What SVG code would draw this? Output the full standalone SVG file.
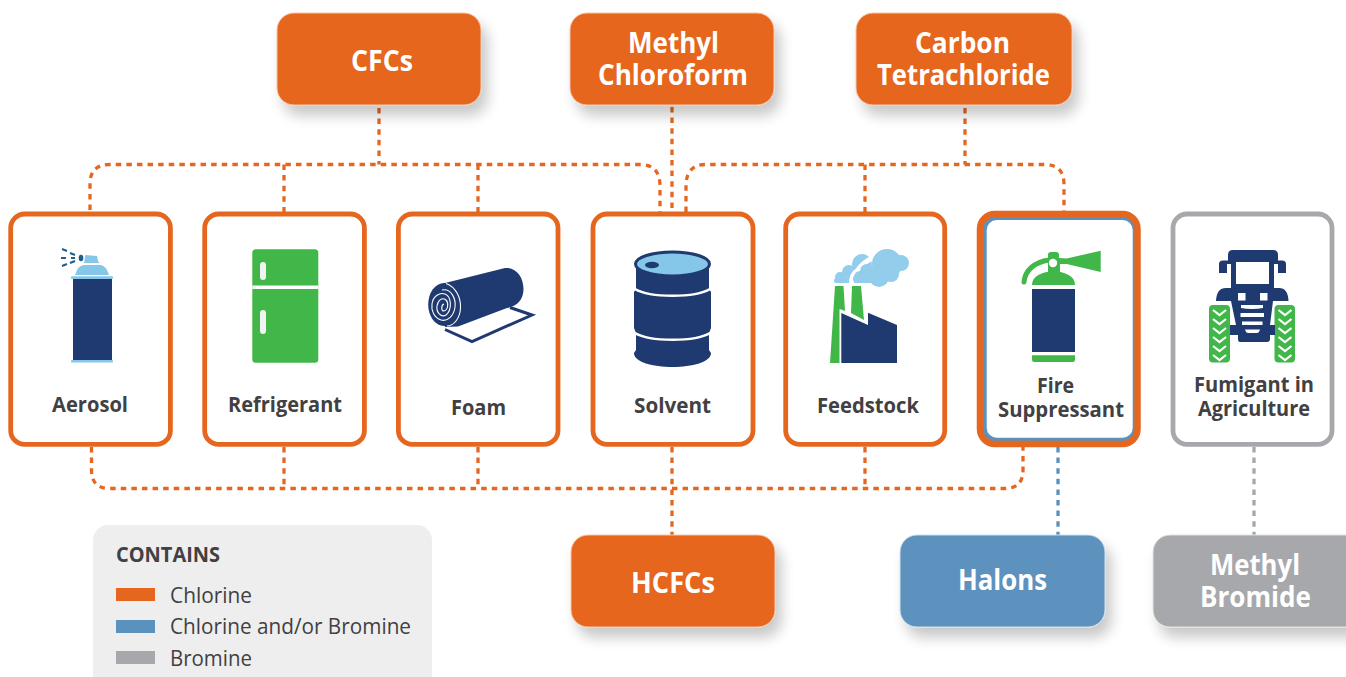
<svg xmlns="http://www.w3.org/2000/svg" width="1346" height="677" viewBox="0 0 1346 677">
<defs>
<filter id="sh" x="-15%" y="-20%" width="135%" height="160%"><feGaussianBlur in="SourceAlpha" stdDeviation="7"/><feOffset dx="6" dy="10"/><feComponentTransfer><feFuncA type="linear" slope="0.22"/></feComponentTransfer><feMerge><feMergeNode/><feMergeNode in="SourceGraphic"/></feMerge></filter>
</defs>
<style>
.card{fill:#fff;stroke:#e5661f;stroke-width:4.800}
.lab{font-family:"Open Sans","Noto Sans",sans-serif;font-weight:700;font-size:21px;fill:#414042}
.hd{font-family:"Open Sans","Noto Sans",sans-serif;font-weight:700;font-size:28px;fill:#fff}
.leg{font-family:"Open Sans","Noto Sans",sans-serif;font-size:22px;fill:#414042}
.or{fill:#e5661f;stroke:#f7c6aa;stroke-width:1}
.navy{fill:#1f3a70}.green{fill:#41b649}.sky{fill:#85c7e9}.wh{fill:#fff}
.c{fill:none;stroke-width:3.300;stroke-dasharray:5.500 5.100}
.co{stroke:#e5661f}
</style>
<rect width="1346" height="677" fill="#fff"/>

<g id="connectors">
<path class="c co" d="M379 108V164.500"/>
<path class="c co" d="M90 210V184Q90 164.500 110 164.500H640Q660 164.500 660 186V212"/>
<path class="c co" d="M284 164.500V212M478 164.500V212"/>
<path class="c co" d="M672 107V212"/>
<path class="c co" d="M686 212V186Q686 164.500 706 164.500H1044Q1064 164.500 1064 184V212"/>
<path class="c co" d="M965 108V164.500M865 164.500V212"/>
<path class="c co" d="M91.500 447V470Q91.500 488.500 110 488.500H1005Q1023 488.500 1023 470V447"/>
<path class="c co" d="M284 447V488.500M478 447V488.500M865 447V488.500"/>
<path class="c co" d="M672 447V535"/>
<path class="c" stroke="#5b92bd" d="M1058 447V535"/>
<path class="c" stroke="#a7a8ab" d="M1254 447V535"/>
</g>

<g id="cfcs"><rect class="or" x="277" y="13" width="204" height="92" rx="17" filter="url(#sh)"/><text class="hd" x="351" y="71" textLength="62" lengthAdjust="spacingAndGlyphs">CFCs</text></g>
<g id="methyl-chloroform"><rect class="or" x="570" y="13" width="204" height="92" rx="17" filter="url(#sh)"/><text class="hd" x="628" y="53" textLength="91" lengthAdjust="spacingAndGlyphs">Methyl</text><text class="hd" x="598" y="85" textLength="150" lengthAdjust="spacingAndGlyphs">Chloroform</text></g>
<g id="carbon-tetrachloride"><rect class="or" x="856" y="13" width="216" height="92" rx="17" filter="url(#sh)"/><text class="hd" x="915" y="53" textLength="95" lengthAdjust="spacingAndGlyphs">Carbon</text><text class="hd" x="877" y="85" textLength="173" lengthAdjust="spacingAndGlyphs">Tetrachloride</text></g>
<g id="hcfcs"><rect class="or" x="571" y="535" width="204" height="92" rx="17" filter="url(#sh)"/><text class="hd" x="631" y="593" textLength="84" lengthAdjust="spacingAndGlyphs">HCFCs</text></g>
<g id="halons"><rect x="900" y="535" width="205" height="92" rx="17" fill="#5b92bd" stroke="#cfe0ec" stroke-width="1" filter="url(#sh)"/><text class="hd" x="958" y="590" textLength="89" lengthAdjust="spacingAndGlyphs">Halons</text></g>
<g id="methyl-bromide"><rect x="1153" y="535" width="210" height="92" rx="17" fill="#a7a8ab" stroke="#e2e2e3" stroke-width="1" filter="url(#sh)"/><text class="hd" x="1210" y="575" textLength="90" lengthAdjust="spacingAndGlyphs">Methyl</text><text class="hd" x="1200" y="607" textLength="111" lengthAdjust="spacingAndGlyphs">Bromide</text></g>

<g id="aerosol"><rect class="card" x="10.700" y="214" width="159.700" height="230.400" rx="14"/>
<rect class="navy" x="73" y="279" width="39" height="81"/>
<rect class="sky" x="71" y="360" width="42" height="2.400" rx="1"/><rect class="sky" x="71" y="276.300" width="42" height="2.600" rx="1"/>
<path class="sky" d="M75 275L77 270Q80 265 85 265H100Q104 265 107 270L109 275Z"/>
<path class="sky" d="M84 263L85.500 255L97 256L98 261L99.500 263Z"/>
<ellipse cx="81" cy="258" rx="2.300" ry="3.300" fill="#1d5f8a"/>
<g stroke="#1d5f8a" stroke-width="2" fill="none"><path d="M70 253L75 255M71 258H75M70 263L75 261M62 249L67 251M61 258H66M62 266L67 264"/></g>
<text class="lab" x="52" y="412" textLength="76" lengthAdjust="spacingAndGlyphs">Aerosol</text></g>

<g id="refrigerant"><rect class="card" x="204.700" y="214" width="159.700" height="230.400" rx="14"/>
<rect class="green" x="252.300" y="249.300" width="66" height="113.400" rx="3.500"/><rect class="wh" x="252.300" y="285.500" width="66" height="3.500"/>
<rect x="260" y="262" width="6" height="18" rx="3" fill="#f1f2f2"/><rect x="260" y="310" width="6" height="24" rx="3" fill="#f1f2f2"/>
<text class="lab" x="228" y="412" textLength="114" lengthAdjust="spacingAndGlyphs">Refrigerant</text></g>

<g id="foam"><rect class="card" x="398.400" y="214" width="159.600" height="230.400" rx="14"/>
<path d="M445 329.500L472 341.500L532 315L510 307.500" fill="#fff" stroke="#1f3a70" stroke-width="3" stroke-linejoin="miter"/>
<path class="navy" d="M443 283.500L505 268C516 267 523.500 277 523.500 289C523.500 300 517 306 507 308L458 326.500L445 327Z"/>
<ellipse cx="444" cy="304.500" rx="15.800" ry="21.500" class="navy"/>
<g fill="none" stroke="#fff" stroke-width="1.100"><path d="M446 283.500C456 287 461 298 460.500 308C460 318 454 326 447 326"/><path d="M442 290C452 288 456 300 455 307C454 316 447 322 441 320C434 318 431 310 432 304C433 296 440 292 445 294C452 297 452 310 446 315C441 318 436 312 437 306C438 300 442 297 446 300C449 303 448 310 444 311C441 311 441 305 444 304"/></g>
<text class="lab" x="451" y="415" textLength="55" lengthAdjust="spacingAndGlyphs">Foam</text></g>

<g id="solvent"><rect class="card" x="593" y="214" width="160" height="230.400" rx="14"/>
<path class="navy" d="M636 264H709V289L711 292V328L709 333V350L711 353C711 362 692 367 672.500 367C653 367 634 362 634 353L636 350V333L634 328V292L636 289Z"/>
<ellipse cx="672.500" cy="264" rx="37" ry="12" fill="#85c7e9" stroke="#1f3a70" stroke-width="3"/>
<ellipse cx="652" cy="265" rx="7" ry="3.200" class="navy"/>
<path d="M635 289C650 298 695 298 710 289M635 333C650 342 695 342 710 333" fill="none" stroke="#fff" stroke-width="2.600"/>
<text class="lab" x="634" y="413" textLength="77" lengthAdjust="spacingAndGlyphs">Solvent</text></g>

<g id="feedstock"><rect class="card" x="785.700" y="214" width="159" height="230.400" rx="14"/>
<path class="green" d="M835 286H843.500L845 311L839.500 309V363H830Z"/><path class="green" d="M852 286H861L864 320L851 313Z"/>
<path class="navy" d="M841.300 313L868 325V312.700L897 325V363H841.300Z"/>
<g fill="#92cdec"><circle cx="862" cy="264" r="10"/><circle cx="849" cy="272" r="7"/><circle cx="840" cy="277" r="5"/><path d="M836.500 278H858V283H836.500A2.500 2.500 0 0 1 836.500 278Z"/></g>
<path d="M874 257Q862 263 858 270Q850 275 852 285" fill="none" stroke="#fff" stroke-width="5"/>
<g fill="#92cdec"><circle cx="887" cy="264" r="15"/><circle cx="901" cy="263" r="8"/><circle cx="867" cy="271" r="7"/><circle cx="860" cy="277" r="6"/><circle cx="879" cy="277" r="10"/><circle cx="891" cy="274" r="8"/><path d="M857 275H885V283H857A4 4 0 0 1 857 275Z"/></g>
<text class="lab" x="817" y="413" textLength="102" lengthAdjust="spacingAndGlyphs">Feedstock</text></g>

<g id="fire-suppressant"><rect x="980" y="214" width="157.500" height="230" rx="15" fill="#5b92bd" stroke="#e5661f" stroke-width="6.500"/><rect x="986.700" y="220" width="146" height="217.700" rx="10" fill="#fff"/>
<rect class="navy" x="1032" y="289" width="43" height="63"/>
<path class="green" d="M1032 285C1032 276 1042 271.500 1053.500 271.500C1065 271.500 1075 276 1075 285Z"/>
<path class="green" d="M1032 355.300H1075V359.500Q1075 362 1072.500 362H1034.500Q1032 362 1032 359.500Z"/>
<path class="green" d="M1048 255Q1048 252 1051 252H1056Q1059 252 1059 255V258L1066.700 258.500L1100.700 250.700V272L1066.700 264L1060 264V272H1048Z"/>
<path d="M1049 260C1035 262 1025 270 1024 282" fill="none" stroke="#41b649" stroke-width="5" stroke-linecap="round"/>
<circle cx="1053" cy="263" r="4.200" fill="#fff"/>
<text class="lab" x="1037" y="393" textLength="37" lengthAdjust="spacingAndGlyphs">Fire</text><text class="lab" x="998" y="417" textLength="126" lengthAdjust="spacingAndGlyphs">Suppressant</text></g>

<g id="fumigant"><rect x="1173" y="214" width="159" height="230.400" rx="14" fill="#fff" stroke="#a7a8ab" stroke-width="4.800"/>
<rect class="green" x="1209" y="305" width="21" height="57.500" rx="4"/><rect class="green" x="1274.500" y="305" width="20.500" height="57.500" rx="4"/>
<g fill="none" stroke="#fff" stroke-width="2.200"><path d="M1213 310L1219.500 315L1226 310M1213 319L1219.500 324L1226 319M1213 328L1219.500 333L1226 328M1213 337L1219.500 342L1226 337M1213 346L1219.500 351L1226 346M1213 355L1219.500 360L1226 355"/><path d="M1278.500 310L1285 315L1291.500 310M1278.500 319L1285 324L1291.500 319M1278.500 328L1285 333L1291.500 328M1278.500 337L1285 342L1291.500 337M1278.500 346L1285 351L1291.500 346M1278.500 355L1285 360L1291.500 355"/></g>
<path class="navy" d="M1228 260V255Q1228 250 1233 250H1273Q1278 250 1278 255V260.500H1282Q1286 260.500 1286 264V273H1278V264H1274V288H1279Q1288 288 1288.500 301H1273L1270 325H1275V335H1270V339Q1270 342 1267 342H1240Q1238 342 1238 339V335H1230V325H1236L1231 301H1216Q1216.500 288 1226 288H1231V264H1227V273H1219V264Q1219 260.500 1223 260.500H1228Z"/>
<rect class="wh" x="1236" y="262" width="33" height="22"/><rect class="wh" x="1238" y="293" width="7.500" height="7.500"/><rect class="wh" x="1260" y="293" width="7.500" height="7.500"/>
<path class="wh" d="M1241 305H1263V308Q1252 310 1241 308ZM1240.500 313H1264V317H1240.500ZM1242 321.500H1262.500V325H1242ZM1245 329.500H1260Q1259 333 1257 333H1248Q1246 333 1245 329.500Z"/>
<text class="lab" x="1194" y="392" textLength="120" lengthAdjust="spacingAndGlyphs">Fumigant in</text><text class="lab" x="1198" y="416" textLength="112" lengthAdjust="spacingAndGlyphs">Agriculture</text></g>

<g id="legend"><rect x="93" y="525" width="339" height="165" rx="15" fill="#eeeeee"/>
<text class="lab" x="116" y="562" textLength="104" lengthAdjust="spacingAndGlyphs">CONTAINS</text>
<rect x="116" y="588" width="39" height="13" fill="#e5661f"/><rect x="116" y="620" width="39" height="13" fill="#5b92bd"/><rect x="116" y="651" width="39" height="13" fill="#a7a8ab"/>
<text class="leg" x="170" y="602.500" textLength="82" lengthAdjust="spacingAndGlyphs">Chlorine</text><text class="leg" x="170" y="634" textLength="241" lengthAdjust="spacingAndGlyphs">Chlorine and/or Bromine</text><text class="leg" x="170" y="665.500" textLength="82" lengthAdjust="spacingAndGlyphs">Bromine</text></g>
</svg>
